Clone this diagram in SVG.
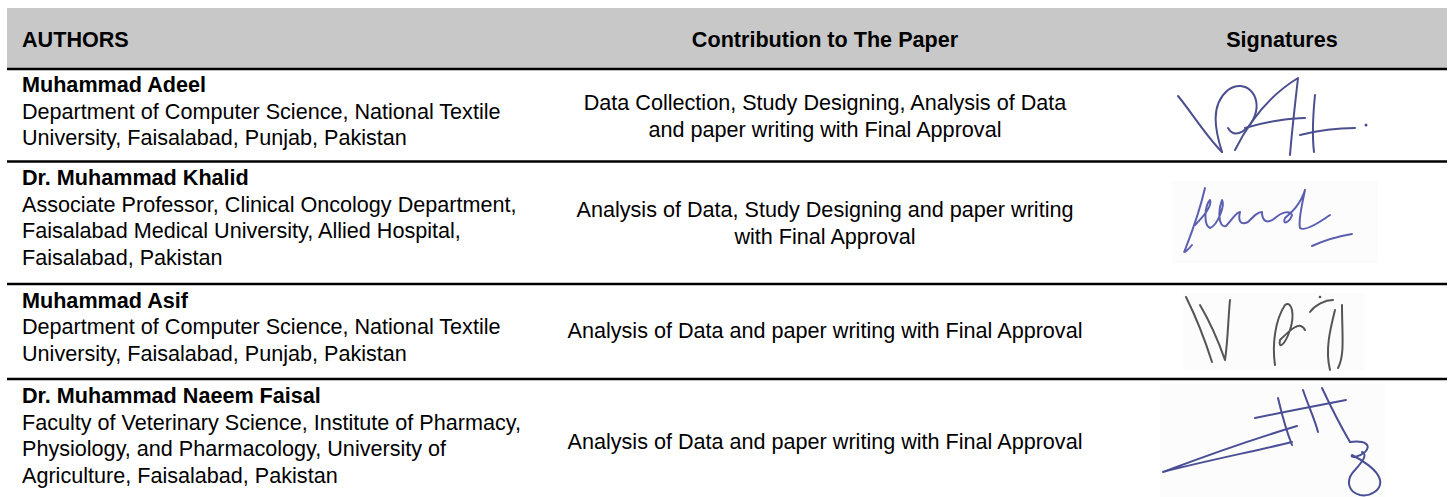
<svg xmlns="http://www.w3.org/2000/svg" width="1448" height="497" viewBox="0 0 1448 497">
<style>
text{font-family:"Liberation Sans",Arial,sans-serif;font-size:21.6px;fill:#000}
.b{font-weight:bold}
.c{text-anchor:middle}
.rule{stroke:#000;stroke-width:2.4}
.sig{fill:none;stroke-width:2;stroke-linecap:round;stroke-linejoin:round}
.ink1{stroke:#4b4f8f}
.ink2{stroke:#5b5fb0}
.ink3{stroke:#555}
.ink4{stroke:#4a4f95}
.sbg{fill:#fcfcfd}
</style>
<rect width="1448" height="497" fill="#fff"/>
<g id="header">
<rect x="7" y="8" width="1440" height="60" fill="#c8c8c8"/>
<text class="b" x="22" y="46.5">AUTHORS</text>
<text class="b c" x="825" y="46.5">Contribution to The Paper</text>
<text class="b c" x="1282" y="46.5">Signatures</text>
</g>
<g id="connectors">
<line class="rule" x1="7" y1="69" x2="1447" y2="69"/>
<line class="rule" x1="7" y1="161.5" x2="1447" y2="161.5"/>
<line class="rule" x1="7" y1="284" x2="1447" y2="284"/>
<line class="rule" x1="7" y1="379" x2="1447" y2="379"/>
</g>
<g id="row1">
<text class="b" x="22" y="92">Muhammad Adeel</text>
<text x="22" y="118.5">Department of Computer Science, National Textile</text>
<text x="22" y="145">University, Faisalabad, Punjab, Pakistan</text>
<text class="c" x="825" y="110">Data Collection, Study Designing, Analysis of Data</text>
<text class="c" x="825" y="136.7">and paper writing with Final Approval</text>
<g id="sig1" class="sig ink1">
<path d="M1178,96 C1190,110 1205,135 1222,152"/>
<path d="M1222,152 C1215,130 1210,105 1228,90 C1245,78 1262,95 1255,115 C1250,130 1235,140 1228,128"/>
<path d="M1235,150 C1250,120 1270,95 1298,78 C1295,105 1292,130 1290,155"/>
<path d="M1245,128 C1265,122 1290,118 1305,118"/>
<path d="M1315,95 C1313,115 1312,135 1314,152"/>
<path d="M1300,135 C1320,130 1340,128 1355,128"/>
<circle cx="1366" cy="125" r="1.5" fill="#4b4f8f" stroke="none"/>
</g>
</g>
<g id="row2">
<text class="b" x="22" y="185">Dr. Muhammad Khalid</text>
<text x="22" y="211.7">Associate Professor, Clinical Oncology Department,</text>
<text x="22" y="238.3">Faisalabad Medical University, Allied Hospital,</text>
<text x="22" y="265">Faisalabad, Pakistan</text>
<text class="c" x="825" y="217">Analysis of Data, Study Designing and paper writing</text>
<text class="c" x="825" y="243.7">with Final Approval</text>
<g id="sig2">
<rect class="sbg" x="1172" y="181" width="206" height="82"/>
<g class="sig ink2">
<path d="M1205,188 C1200,210 1192,232 1185,250 C1182,255 1188,250 1192,245"/>
<path d="M1195,225 C1205,215 1212,205 1210,200 C1205,205 1203,225 1210,228 C1218,225 1225,205 1222,200 C1218,210 1218,228 1226,226 C1232,220 1236,212 1240,212 C1238,220 1240,226 1248,222 C1255,215 1258,212 1262,212 C1262,222 1268,224 1275,218 C1282,212 1290,210 1292,215 C1290,222 1282,226 1285,218 C1292,212 1300,205 1305,190 C1302,205 1298,220 1300,228 C1305,232 1320,222 1330,215"/>
<path d="M1312,246 C1325,240 1340,236 1352,234"/>
</g>
</g>
</g>
<g id="row3">
<text class="b" x="22" y="307.5">Muhammad Asif</text>
<text x="22" y="334.2">Department of Computer Science, National Textile</text>
<text x="22" y="360.8">University, Faisalabad, Punjab, Pakistan</text>
<text class="c" x="825" y="338">Analysis of Data and paper writing with Final Approval</text>
<g id="sig3">
<rect class="sbg" x="1183" y="293" width="182" height="77"/>
<g class="sig ink3">
<path d="M1186,297 C1195,315 1205,340 1212,362"/>
<path d="M1200,305 C1210,322 1218,340 1225,360 C1228,340 1228,320 1230,300"/>
<path d="M1275,365 C1272,345 1275,320 1285,305 C1292,300 1295,315 1290,330 C1285,345 1278,350 1280,340 C1290,330 1300,320 1305,330"/>
<path d="M1310,312 C1315,305 1325,300 1333,300"/>
<path d="M1335,310 C1330,330 1325,350 1330,370"/>
<path d="M1342,305 C1342,335 1345,355 1338,368"/>
<circle cx="1320" cy="297" r="1.3" fill="#555" stroke="none"/>
</g>
</g>
</g>
<g id="row4">
<text class="b" x="22" y="403">Dr. Muhammad Naeem Faisal</text>
<text x="22" y="429.7">Faculty of Veterinary Science, Institute of Pharmacy,</text>
<text x="22" y="456.3">Physiology, and Pharmacology, University of</text>
<text x="22" y="483">Agriculture, Faisalabad, Pakistan</text>
<text class="c" x="825" y="449">Analysis of Data and paper writing with Final Approval</text>
<g id="sig4">
<rect class="sbg" x="1160" y="384" width="225" height="113"/>
<g class="sig ink4">
<path d="M1292,442 C1260,450 1200,462 1163,472 C1200,458 1250,440 1297,426"/>
<path d="M1278,398 C1282,415 1288,435 1292,445"/>
<path d="M1303,390 C1308,405 1315,420 1318,432"/>
<path d="M1322,388 C1330,405 1340,425 1350,442"/>
<path d="M1255,418 C1285,412 1320,405 1346,400"/>
<path d="M1350,442 C1365,440 1372,445 1365,452 C1358,458 1350,458 1352,455 C1362,460 1378,470 1380,480 C1382,490 1370,497 1360,495 C1348,492 1345,480 1355,470 C1362,462 1368,455 1362,452"/>
</g>
</g>
</g>
</svg>
